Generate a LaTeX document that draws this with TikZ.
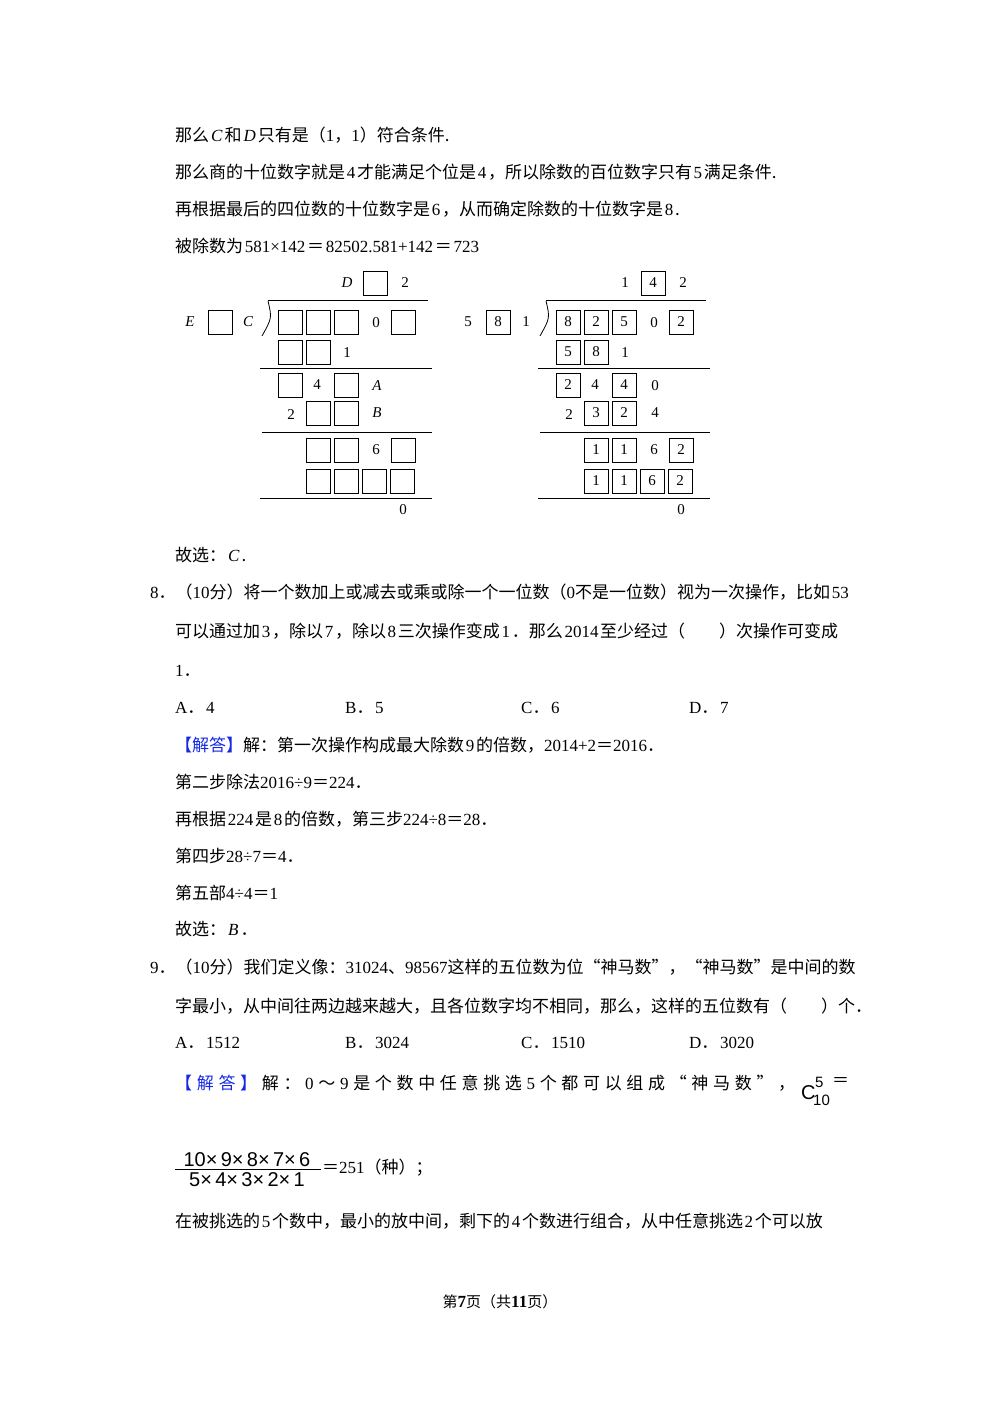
\documentclass[tikz,border=0pt]{standalone}
\usepackage{fontspec}
\setmainfont{Noto Sans CJK SC}
\newfontfamily\lat{Liberation Serif}
\newfontfamily\arl{Liberation Sans}
\newcommand\nn[1]{\hspace{0.1em}{\lat #1}\hspace{0.1em}}
\newcommand\itx[1]{\hspace{0.12em}{\lat\itshape #1}\hspace{0.12em}}
\definecolor{ansblue}{RGB}{20,40,230}
\begin{document}
\begin{tikzpicture}[x=1pt,y=-1pt,
  txt/.style={anchor=west,inner sep=0,font=\fontsize{17}{20}\selectfont},
  bx/.style={draw,line width=0.9pt,minimum size=24pt,inner sep=0,font=\lat\fontsize{15}{15}\selectfont},
  dg/.style={inner sep=0,font=\lat\fontsize{15}{15}\selectfont},
  lt/.style={inner sep=0,font=\lat\itshape\fontsize{15}{15}\selectfont},
  rule/.style={line width=1pt}]
\useasboundingbox (0,0) rectangle (1000,1415);
\node[txt] (l1) at (175,135) {那么\itx{C}和\itx{D}只有是（{\lat 1}，{\lat 1}）符合条件.};
\node[txt] (l2) at (175,172) {那么商的十位数字就是\nn{4}才能满足个位是\nn{4}，所以除数的百位数字只有\nn{5}满足条件.};
\node[txt] (l3) at (175,209) {再根据最后的四位数的十位数字是\nn{6}，从而确定除数的十位数字是\nn{8}.};
\node[txt] (l4) at (175,246) {被除数为\nn{581×142}＝\nn{82502.581+142}＝\nn{723}};
\foreach \st/\s/\xq/\xw/\xe/\xa/\xb/\xc/\xd/\xf/\xg/\xh/\xi/\xj/\xk/\xl/\xm/\xn/\xo/\xp/\xr/\xt/\xu/\xv/\xx in
 {lt/0/D/{}/E/{}/C/{}/{}/{}/{}/{}/{}/A/{}/{}/B/{}/{}/{}/{}/{}/{}/{}/{},
  dg/278/1/4/5/8/1/8/2/5/2/5/8/0/2/4/4/3/2/1/1/2/1/1/2}{
\begin{scope}[xshift=\s]
\node[\st] (q1) at (347,283) {\xq};
\node[bx] (q2) at (375,283) {\xw};
\node[dg] (q3) at (405,283) {2};
\draw[rule] (268,300) -- (428,300);
\draw[line width=0.8pt] (268,301) .. controls (272,318) .. (262,336);
\node[\st] (e1) at (190,322) {\xe};
\node[bx] (e2) at (220,322) {\xa};
\node[\st] (e3) at (248,322) {\xb};
\node[bx] (a1) at (290,322) {\xc};
\node[bx] (a2) at (318,322) {\xd};
\node[bx] (a3) at (346,322) {\xf};
\node[dg] (a4) at (376,323) {0};
\node[bx] (a5) at (403,322) {\xg};
\node[bx] (b1) at (290,352) {\xh};
\node[bx] (b2) at (318,352) {\xi};
\node[dg] (b3) at (347,353) {1};
\draw[rule] (260,368) -- (432,368);
\node[bx] (c1) at (290,385) {\xk};
\node[dg] (c2) at (317,385) {4};
\node[bx] (c3) at (346,385) {\xl};
\node[\st] (c4) at (377,386) {\xj};
\node[dg] (d1) at (291,415) {2};
\node[bx] (d2) at (318,413) {\xn};
\node[bx] (d3) at (346,413) {\xo};
\node[\st] (d4) at (377,413) {\xm};
\draw[rule] (262,432) -- (432,432);
\node[bx] (f1) at (318,450) {\xp};
\node[bx] (f2) at (346,450) {\xr};
\node[dg] (f3) at (376,450) {6};
\node[bx] (f4) at (403,450) {\xt};
\node[bx] (g1) at (318,481) {\xu};
\node[bx] (g2) at (346,481) {\xv};
\node[bx] (g3) at (374,481) {6};
\node[bx] (g4) at (402,481) {\xx};
\draw[rule] (260,498) -- (432,498);
\node[dg] (z) at (403,510) {0};
\end{scope}}
\fill[white] (363,470) rectangle (385,492);
\draw[line width=0.9pt] (362,469) rectangle (386,493);
\node[txt] (l5) at (175,555) {故选：\itx{C}.};
\node[txt] (l6) at (150,592) {{\lat 8}．（{\lat 10}分）将一个数加上或减去或乘或除一个一位数（{\lat 0}不是一位数）视为一次操作，比如\nn{53}};
\node[txt] (l7) at (175,631) {可以通过加\nn{3}，除以\nn{7}，除以\nn{8}三次操作变成\nn{1}．那么\nn{2014}至少经过（\hspace{2em}）次操作可变成};
\node[txt] (l8) at (175,671) {{\lat 1}．};
\node[txt] (o1) at (175,708) {{\lat A}．\nn{4}};
\node[txt] (o2) at (345,708) {{\lat B}．\nn{5}};
\node[txt] (o3) at (521,708) {{\lat C}．\nn{6}};
\node[txt] (o4) at (689,708) {{\lat D}．\nn{7}};
\node[txt] (s1) at (175,745) {{\color{ansblue}【解答】}解：第一次操作构成最大除数\nn{9}的倍数，{\lat 2014+2}＝{\lat 2016}．};
\node[txt] (s2) at (175,782) {第二步除法{\lat 2016÷9}＝{\lat 224}．};
\node[txt] (s3) at (175,819) {再根据\nn{224}是\nn{8}的倍数，第三步{\lat 224÷8}＝{\lat 28}．};
\node[txt] (s4) at (175,856) {第四步{\lat 28÷7}＝{\lat 4}．};
\node[txt] (s5) at (175,893) {第五部{\lat 4÷4}＝{\lat 1}};
\node[txt] (s6) at (175,929) {故选：\itx{B}．};
\node[txt] (n1) at (150,967) {{\lat 9}．（{\lat 10}分）我们定义像：{\lat 31024}、{\lat 98567}这样的五位数为位“神马数”，“神马数”是中间的数};
\node[txt] (n2) at (175,1006) {字最小，从中间往两边越来越大，且各位数字均不相同，那么，这样的五位数有（\hspace{2em}）个．};
\node[txt] (p1) at (175,1043) {{\lat A}．\nn{1512}};
\node[txt] (p2) at (345,1043) {{\lat B}．\nn{3024}};
\node[txt] (p3) at (521,1043) {{\lat C}．\nn{1510}};
\node[txt] (p4) at (689,1043) {{\lat D}．\nn{3020}};
\node[txt] (t1) at (175,1083) {\makebox[620pt][s]{{\color{ansblue}【\hfill 解\hfill 答\hfill 】}\hfill 解\hfill ：\hfill {\lat 0}\hfill ～\hfill {\lat 9}\hfill 是\hfill 个\hfill 数\hfill 中\hfill 任\hfill 意\hfill 挑\hfill 选\hfill {\lat 5}\hfill 个\hfill 都\hfill 可\hfill 以\hfill 组\hfill 成\hfill “\hfill 神\hfill 马\hfill 数\hfill ”\hfill ，}};
\node[txt,font=\arl\fontsize{20}{20}\selectfont] (t2) at (801,1093) {C};
\node[anchor=west,inner sep=0,font=\arl\fontsize{15}{15}\selectfont] (t2a) at (815,1082) {5};
\node[anchor=west,inner sep=0,font=\arl\fontsize{15}{15}\selectfont] (t2b) at (813,1100) {10};
\node[txt] (t2c) at (832,1082) {＝};
\node[anchor=south,inner sep=1pt,font=\arl\fontsize{20}{20}\selectfont] (fn) at (247,1168) {10×\,9×\,8×\,7×\,6};
\node[anchor=north,inner sep=1pt,font=\arl\fontsize{20}{20}\selectfont] (fd) at (247,1171) {5×\,4×\,3×\,2×\,1};
\draw[line width=1pt] (175,1169.5) -- (321,1169.5);
\node[txt] (fr) at (322,1168) {＝{\lat 251}（种）；};
\node[txt] (t3) at (175,1221) {在被挑选的\nn{5}个数中，最小的放中间，剩下的\nn{4}个数进行组合，从中任意挑选\nn{2}个可以放};
\node[inner sep=0,font=\fontsize{15}{15}\selectfont] (ft) at (500,1302) {第{\bfseries\lat\fontsize{17}{17}\selectfont 7}页（共{\bfseries\lat\fontsize{17}{17}\selectfont 11}页）};
\end{tikzpicture}
\end{document}
